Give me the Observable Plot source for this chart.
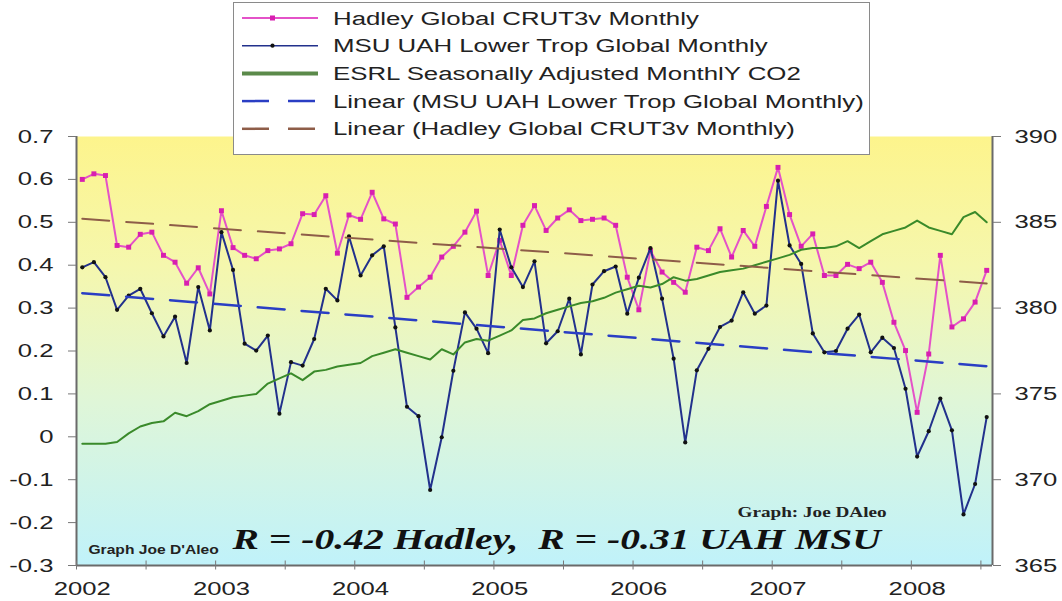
<!DOCTYPE html>
<html><head><meta charset="utf-8">
<script src="https://cdn.jsdelivr.net/npm/d3@7"></script>
<script src="https://cdn.jsdelivr.net/npm/@observablehq/plot@0.6"></script>
<style>
html,body{margin:0;padding:0;background:#fff;}
#wrap{position:relative;width:1062px;height:601px;overflow:hidden;}
#wrap svg{position:absolute;left:0;top:0;}
</style></head><body><div id="wrap"></div>
<script>
// ---- data (monthly, Jan 2002 .. Jul 2008) ----
const hadley = [0.600,0.613,0.609,0.446,0.442,0.472,0.477,0.423,0.407,0.358,0.394,0.333,
  0.527,0.441,0.423,0.415,0.434,0.438,0.450,0.520,0.518,0.562,0.428,0.517,
  0.507,0.570,0.508,0.496,0.325,0.349,0.372,0.419,0.444,0.477,0.526,0.376,
  0.458,0.376,0.493,0.539,0.481,0.510,0.529,0.504,0.507,0.510,0.493,0.372,
  0.296,0.434,0.384,0.360,0.337,0.442,0.434,0.485,0.419,0.481,0.444,0.537,
  0.628,0.518,0.444,0.473,0.376,0.376,0.402,0.392,0.407,0.360,0.267,0.201,
  0.057,0.193,0.423,0.256,0.275,0.314,0.388];
const uah = [0.395,0.407,0.372,0.296,0.329,0.345,0.288,0.234,0.280,0.172,0.349,0.248,
  0.477,0.389,0.217,0.201,0.236,0.054,0.174,0.166,0.228,0.345,0.318,0.467,
  0.376,0.423,0.444,0.255,0.070,0.048,-0.124,-0.001,0.154,0.290,0.252,0.195,
  0.483,0.395,0.349,0.409,0.218,0.246,0.322,0.192,0.355,0.386,0.397,0.287,
  0.371,0.440,0.322,0.182,-0.013,0.155,0.205,0.256,0.271,0.337,0.287,0.306,
  0.597,0.446,0.403,0.241,0.197,0.200,0.252,0.285,0.197,0.231,0.207,0.112,
  -0.046,0.013,0.089,0.015,-0.181,-0.110,0.046];
const co2 = [372.1,372.1,372.1,372.2,372.7,373.1,373.3,373.4,373.9,373.7,374.0,374.4,
  374.6,374.8,374.9,375.0,375.6,375.9,376.2,375.8,376.3,376.4,376.6,376.7,
  376.8,377.2,377.4,377.6,377.4,377.2,377.0,377.6,377.3,378.0,378.2,378.1,
  378.4,378.7,379.3,379.4,379.7,379.9,380.1,380.3,380.4,380.6,380.9,381.1,
  381.3,381.2,381.4,381.8,381.6,381.7,381.9,382.1,382.2,382.3,382.5,382.7,
  382.9,383.1,383.4,383.5,383.5,383.6,383.9,383.5,383.9,384.3,384.5,384.7,
  385.1,384.7,384.5,384.3,385.3,385.6,385.0];
const yearLabels = ["2002","2003","2004","2005","2006","2007","2008"];
const xTicks = [0,6,12,18,24,30,36,42,48,54,60,66,72,78];
const leftTicks = [-0.3,-0.2,-0.1,0,0.1,0.2,0.3,0.4,0.5,0.6,0.7];
const co2Ticks = [365,370,375,380,385,390];
const legendItems = ["Hadley Global CRUT3v Monthly","MSU UAH Lower Trop Global Monthly",
  "ESRL Seasonally Adjusted MonthlY CO2","Linear (MSU UAH Lower Trop Global Monthly)",
  "Linear (Hadley Global CRUT3v Monthly)"];
const rText = "R = -0.42 Hadley,  R = -0.31 UAH MSU";
const credit1 = "Graph Joe D'Aleo";
const credit2 = "Graph: Joe DAleo";

// ---- helpers ----
const co2Lo = co2Ticks[0], co2Hi = co2Ticks[co2Ticks.length-1];
const yLo = leftTicks[0], yHi = leftTicks[leftTicks.length-1];
const co2ToY = v => yLo + (v - co2Lo) / (co2Hi - co2Lo) * (yHi - yLo);
const yToCo2 = y => co2Lo + (y - yLo) / (yHi - yLo) * (co2Hi - co2Lo);
const rows = hadley.map((h, i) => ({x: i + 0.5, hadley: h, uah: uah[i], co2: co2ToY(co2[i])}));
const labelPos = yearLabels.map((_, k) => k * 12 + 0.5);

const plot = Plot.plot({
  width: 1062, height: 601,
  marginTop: 136, marginBottom: 36, marginLeft: 76, marginRight: 70,
  style: {fontFamily: "'Liberation Sans', Arial, sans-serif", fontSize: "19px", color: "#222", background: "transparent", overflow: "visible"},
  x: {domain: [0, hadley.length], axis: null},
  y: {domain: [yLo, yHi], axis: null},
  marks: [
    Plot.frame({fill: "url(#plotBg)", stroke: "none"}),
    Plot.lineY(rows, {x: "x", y: "hadley", stroke: "#e452c8", strokeWidth: 2}),
    Plot.dot(rows, {x: "x", y: "hadley", symbol: "square", r: 2.8, fill: "#d81fb0"}),
    Plot.lineY(rows, {x: "x", y: "uah", stroke: "#22318c", strokeWidth: 2}),
    Plot.dot(rows, {x: "x", y: "uah", r: 2.1, fill: "#111"}),
    Plot.lineY(rows, {x: "x", y: "co2", stroke: "#3a8a2a", strokeWidth: 2}),
    Plot.linearRegressionY(rows, {x: "x", y: "uah", stroke: "#2a3ec4", strokeWidth: 2.5, strokeDasharray: "27,17", ci: 0}),
    Plot.linearRegressionY(rows, {x: "x", y: "hadley", stroke: "#8e5d48", strokeWidth: 2, strokeDasharray: "27,17", ci: 0}),
    Plot.ruleX([0, hadley.length], {stroke: "#6a6a6a", strokeWidth: 2}),
    Plot.ruleY([yLo], {stroke: "#6a6a6a", strokeWidth: 2}),
    Plot.axisY({ticks: leftTicks, anchor: "left", tickSize: 8, tickPadding: 15, stroke: "#777", label: null,
      tickFormat: d => d === 0 ? "0" : d.toFixed(1)}),
    Plot.axisY({ticks: co2Ticks.map(co2ToY), anchor: "right", tickSize: 8, tickPadding: 14, stroke: "#777", label: null,
      tickFormat: d => String(Math.round(yToCo2(d)))}),
    Plot.axisX({ticks: xTicks, anchor: "bottom", tickSize: 9, dy: -4.5, stroke: "#777", label: null, tickFormat: () => ""}),
    Plot.axisX({ticks: labelPos, anchor: "bottom", tickSize: 0, tickPadding: 16, label: null,
      tickFormat: d => yearLabels[Math.round((d - 0.5) / 12)]}),
    Plot.text([credit1], {text: d => d, frameAnchor: "bottom-left", dx: 12, dy: -12, textAnchor: "start", lineAnchor: "bottom",
      fontSize: 12, fontWeight: "bold", fill: "#222"}),
    Plot.text([rText], {text: d => d, frameAnchor: "bottom-left", dx: 156, dy: -17, textAnchor: "start", lineAnchor: "bottom",
      fontFamily: "'Liberation Serif', 'Times New Roman', serif", fontSize: 30, fontWeight: "bold", fontStyle: "italic", fill: "#111"}),
    Plot.text([credit2], {text: d => d, frameAnchor: "bottom-left", dx: 661, dy: -49, textAnchor: "start", lineAnchor: "bottom",
      fontFamily: "'Liberation Serif', 'Times New Roman', serif", fontSize: 14, fontWeight: "bold", fill: "#222"})
  ]
});

// gradient background
const svg = d3.select(plot);
const grad = svg.insert("defs", ":first-child").append("linearGradient")
  .attr("id", "plotBg").attr("x1", 0).attr("y1", 0).attr("x2", 0).attr("y2", 1);
[[0, "#fdf48c"], [0.3, "#f5f7ad"], [0.62, "#dff6d8"], [1, "#c0f2fa"]]
  .forEach(([o, c]) => grad.append("stop").attr("offset", o).attr("stop-color", c));

// horizontal stretch of texts (the original is horizontally stretched)
function stretch(el, sx) {
  const xa = el.getAttribute("x");
  let t = el.getAttribute("transform") || "";
  if (xa !== null && !isNaN(+xa) && +xa !== 0) {
    t += ` translate(${+xa},0)`;
    el.removeAttribute("x");
  }
  el.setAttribute("transform", `${t} scale(${sx},1)`);
}
svg.selectAll("g[aria-label='y-axis tick label'] text, g[aria-label='x-axis tick label'] text")
  .each(function() { stretch(this, 1.35); });
const textStretch = new Map([[credit1, 1.3], [rText, 1.32], [credit2, 1.37]]);
svg.selectAll("text").each(function() {
  const s = textStretch.get(this.textContent);
  if (s) stretch(this, s);
});

const wrap = document.getElementById("wrap");
wrap.appendChild(plot);

// legend
const lg = d3.select(wrap).append("svg").attr("width", 1062).attr("height", 601)
  .style("font-family", "'Liberation Sans', Arial, sans-serif").style("font-size", "19px");
lg.append("rect").attr("x", 233.5).attr("y", 2.5).attr("width", 636).attr("height", 152)
  .attr("fill", "#fff").attr("stroke", "#8a8a8a");
const sw = [
  {stroke: "#e452c8", w: 2, marker: "sq", mfill: "#d81fb0"},
  {stroke: "#22318c", w: 1.5, marker: "dot", mfill: "#111"},
  {stroke: "#5b8a4a", w: 4},
  {stroke: "#2a3ec4", w: 2.5, dash: "27,19"},
  {stroke: "#8e5d48", w: 2.5, dash: "27,19"}
];
legendItems.forEach((name, k) => {
  const cy = 18 + k * 27.7, s = sw[k];
  const ln = lg.append("line").attr("x1", 242).attr("x2", 318).attr("y1", cy).attr("y2", cy)
    .attr("stroke", s.stroke).attr("stroke-width", s.w);
  if (s.dash) ln.attr("stroke-dasharray", s.dash);
  if (s.marker === "sq") lg.append("rect").attr("x", 270).attr("y", cy - 2.5).attr("width", 5).attr("height", 5).attr("fill", s.mfill);
  if (s.marker === "dot") lg.append("circle").attr("cx", 272.5).attr("cy", cy).attr("r", 2.1).attr("fill", s.mfill);
  lg.append("text").attr("transform", `translate(333,${cy}) scale(1.36,1)`).attr("dy", "0.35em")
    .attr("fill", "#222").text(name);
});
</script></body></html>
